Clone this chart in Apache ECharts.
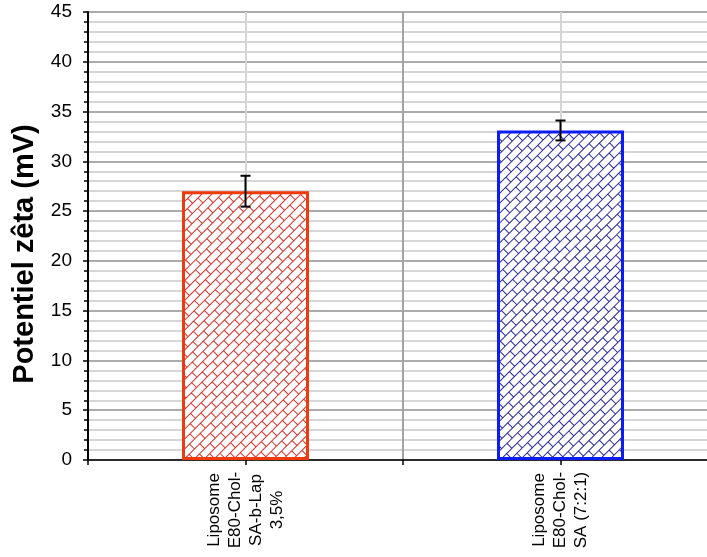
<!DOCTYPE html>
<html>
<head>
<meta charset="utf-8">
<script src="https://cdn.jsdelivr.net/npm/echarts@6/dist/echarts.min.js"></script>
<style>
html,body{margin:0;padding:0;background:#fff;}
#chart{width:707px;height:557px;}
</style>
</head>
<body>
<div id="chart"></div>
<script>
// ---- data ----
const categories = ['Liposome\nE80-Chol-\nSA-b-Lap\n3,5%', 'Liposome\nE80-Chol-\nSA (7:2:1)'];
const values = [27.0, 33.1];
const errors = [1.55, 1.0];
const yTicks = [0, 5, 10, 15, 20, 25, 30, 35, 40, 45];

// ---- hatch pattern (diagonal brick) ----
function makePattern(lineColor) {
  const c = document.createElement('canvas');
  c.width = 720; c.height = 570;
  const ctx = c.getContext('2d');
  ctx.fillStyle = '#ffffff';
  ctx.fillRect(0, 0, c.width, c.height);
  ctx.strokeStyle = lineColor;
  ctx.lineWidth = 1;
  ctx.rotate(-Math.PI / 4);
  const s = 7, L = 15;
  ctx.beginPath();
  for (let k = -200; k <= 200; k++) {
    const y = k * s;
    ctx.moveTo(-1200, y); ctx.lineTo(1200, y);
    const off = (Math.abs(k) % 2) ? L / 2 : 0;
    for (let j = -100; j <= 100; j++) {
      const x = j * L + off;
      ctx.moveTo(x, y); ctx.lineTo(x, y + s);
    }
  }
  ctx.stroke();
  return c;
}
const redPat = makePattern('#d9302a');
const bluePat = makePattern('#2a2a9c');
const barStyles = [
  { color: { image: redPat, repeat: 'repeat' }, borderColor: '#f03a0c', borderWidth: 3 },
  { color: { image: bluePat, repeat: 'repeat' }, borderColor: '#0c1cf5', borderWidth: 3 }
];

const chart = echarts.init(document.getElementById('chart'), null, { renderer: 'canvas' });
const option = {
  animation: false,
  backgroundColor: '#ffffff',
  grid: { left: 88, top: 12, width: 630, height: 448, containLabel: false, outerBoundsMode: 'none' },
  xAxis: [
    {
      type: 'category',
      data: categories,
      boundaryGap: true,
      axisLine: { show: true, lineStyle: { color: '#000', width: 1.5 } },
      axisTick: { show: true, length: 5, inside: false, lineStyle: { color: '#000', width: 1.5 } },
      splitLine: { show: true, lineStyle: { color: '#a3a3a3', width: 2 } },
      axisLabel: {
        interval: 0, rotate: 90, fontFamily: 'Liberation Sans, Arial, sans-serif',
        fontSize: 17, lineHeight: 21, color: '#000', align: 'center', verticalAlign: 'middle', margin: 50
      }
    },
    {
      type: 'category',
      data: categories,
      position: 'bottom',
      boundaryGap: true,
      axisLine: { show: false },
      axisTick: { show: true, alignWithLabel: true, length: 5, lineStyle: { color: '#000', width: 1.5 } },
      splitLine: { show: true, alignWithLabel: true, lineStyle: { color: '#d6d6d6', width: 2 } },
      axisLabel: { show: false }
    }
  ],
  yAxis: {
    type: 'value',
    min: yTicks[0], max: yTicks[yTicks.length - 1], interval: 5,
    name: 'Potentiel zêta (mV)',
    nameLocation: 'middle',
    nameGap: 48,
    nameRotate: 90,
    nameTextStyle: { fontFamily: 'Liberation Sans, Arial, sans-serif', fontWeight: 'bold', fontSize: 29, color: '#000', padding: [0, 36, 0, 0] },
    axisLine: { show: true, lineStyle: { color: '#000', width: 2 } },
    axisTick: { show: true, length: 5, lineStyle: { color: '#000', width: 1.5 } },
    minorTick: { show: true, splitNumber: 5, length: 4, lineStyle: { color: '#000', width: 1.5 } },
    splitLine: { show: true, lineStyle: { color: '#ababab', width: 2 } },
    minorSplitLine: { show: true, lineStyle: { color: '#d6d6d6', width: 2 } },
    axisLabel: { fontFamily: 'Liberation Sans, Arial, sans-serif', fontSize: 19, color: '#000', margin: 16 }
  },
  series: [
    {
      type: 'bar',
      xAxisIndex: 0,
      barWidth: 127,
      data: values.map((v, i) => ({ value: v, itemStyle: barStyles[i] })),
      z: 2
    },
    {
      type: 'custom',
      xAxisIndex: 0,
      z: 5,
      data: values.map((v, i) => [i, v - errors[i], v + errors[i]]),
      renderItem: function (params, api) {
        const lo = api.coord([api.value(0), api.value(1)]);
        const hi = api.coord([api.value(0), api.value(2)]);
        const hw = 5;
        const st = { stroke: '#000', lineWidth: 2 };
        return {
          type: 'group',
          children: [
            { type: 'line', shape: { x1: hi[0], y1: hi[1], x2: lo[0], y2: lo[1] }, style: st },
            { type: 'line', shape: { x1: hi[0] - hw, y1: hi[1], x2: hi[0] + hw, y2: hi[1] }, style: st },
            { type: 'line', shape: { x1: lo[0] - hw, y1: lo[1], x2: lo[0] + hw, y2: lo[1] }, style: st }
          ]
        };
      }
    }
  ]
};
chart.setOption(option);
</script>
</body>
</html>
